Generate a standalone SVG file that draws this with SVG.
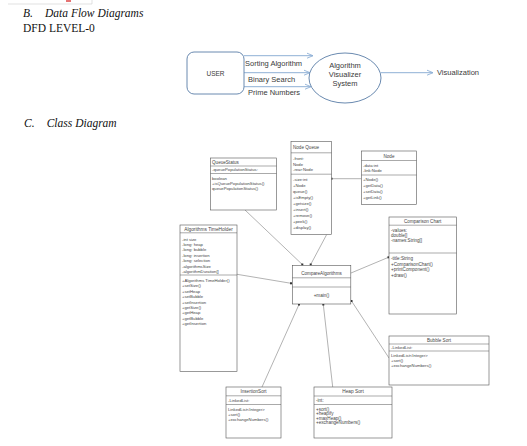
<svg xmlns="http://www.w3.org/2000/svg" width="527" height="446" viewBox="0 0 527 446">
<style>
.hd{font-family:"Liberation Serif",serif;font-size:11.5px;font-style:italic;fill:#111}
.hn{font-family:"Liberation Serif",serif;font-size:11.5px;fill:#111}
.dt{font-family:"Liberation Sans",sans-serif;font-size:7.5px;fill:#3a3a3a}
.dfd{fill:#fff;stroke:#6a8ab0;stroke-width:1}
.fl{stroke:#8fb0d6;stroke-width:1;fill:none;marker-end:url(#ar)}
.bx{fill:#fff;stroke:#555;stroke-width:0.6}
.sp{stroke:#555;stroke-width:0.5}
.t{font-family:"Liberation Sans",sans-serif;font-size:4.2px;fill:#444}
.tt{font-family:"Liberation Sans",sans-serif;font-size:4.6px;fill:#444}
.c{text-anchor:middle}
.cn{stroke:#666;stroke-width:0.5;fill:none;marker-end:url(#dot)}
</style>
<defs>
<marker id="ar" markerWidth="8" markerHeight="8" refX="7" refY="4" orient="auto" markerUnits="userSpaceOnUse"><path d="M1,1.5 L7,4 L1,6.5" fill="none" stroke="#8fb0d6" stroke-width="0.9"/></marker>
<marker id="dot" markerWidth="3" markerHeight="3" refX="1.5" refY="1.5" markerUnits="userSpaceOnUse"><rect x="0.5" y="0.5" width="2" height="2" fill="#333"/></marker>
</defs>
<rect width="527" height="446" fill="#fff"/>
<path d="M8,4 H92 V0" fill="none" stroke="#ccc" stroke-width="0.6"/>
<rect x="66" y="0" width="5" height="2" fill="#e57373"/>

<text class="hd"><tspan x="23" y="17">B.</tspan><tspan x="45" y="17">Data Flow Diagrams</tspan></text>
<text class="hn" x="23" y="31.5">DFD LEVEL-0</text>
<text class="hd"><tspan x="24" y="126.5">C.</tspan><tspan x="46.7" y="126.5">Class Diagram</tspan></text>

<g id="dfd-flows">
<line class="fl" x1="244" y1="55.7" x2="313" y2="55.7"/>
<line class="fl" x1="244" y1="72.7" x2="310" y2="72.7"/>
<line class="fl" x1="244" y1="86.7" x2="311" y2="86.7"/>
<line class="fl" x1="381" y1="72.7" x2="433" y2="72.7"/>
<text class="dt" x="245" y="66">Sorting Algorithm</text>
<text class="dt" x="248" y="82">Binary Search</text>
<text class="dt" x="248" y="95.3">Prime Numbers</text>
<text class="dt" x="437" y="75.3">Visualization</text>
</g>
<g id="dfd-user">
<rect class="dfd" x="187" y="52" width="57" height="42" rx="7"/>
<text class="dt c" x="215.5" y="75.6" style="font-size:6.5px">USER</text>
</g>
<g id="dfd-system">
<ellipse class="dfd" cx="345" cy="78" rx="36" ry="25"/>
<text class="dt c" x="345" y="67.6">Algorithm</text>
<text class="dt c" x="345" y="77">Visualizer</text>
<text class="dt c" x="345" y="86">System</text>
</g>

<g id="connectors">
<line class="cn" x1="245" y1="210" x2="302.3" y2="264.5"/>
<line class="cn" x1="326.7" y1="234.5" x2="310.7" y2="264.5"/>
<line class="cn" x1="361.5" y1="178.7" x2="331.5" y2="178.7"/>
<line class="cn" x1="237" y1="274.3" x2="291" y2="283.3"/>
<line class="cn" x1="351" y1="273" x2="388.5" y2="257.3"/>
<line class="cn" x1="389" y1="358" x2="351.5" y2="301"/>
<line class="cn" x1="262" y1="387" x2="299" y2="304.5"/>
<line class="cn" x1="332.7" y1="387" x2="323.3" y2="304.5"/>
</g>

<g id="queuestatus">
<rect class="bx" x="210.5" y="158" width="66" height="52"/>
<line class="sp" x1="210.5" y1="166" x2="276.5" y2="166"/>
<line class="sp" x1="210.5" y1="173.5" x2="276.5" y2="173.5"/>
<text class="tt" x="212" y="163.8">QueueStatus</text>
<text class="t" x="212" y="171.3">-queuePopulationStatus:</text>
<text class="t" x="212" y="179.8">boolean</text>
<text class="t" x="212" y="185">+isQueuePopulationStatus()</text>
<text class="t" x="212" y="190.2">queuePopulationStatus()</text>
</g>

<g id="nodequeue">
<rect class="bx" x="291" y="141.5" width="40.5" height="93"/>
<line class="sp" x1="291" y1="152.8" x2="331.5" y2="152.8"/>
<line class="sp" x1="291" y1="174.2" x2="331.5" y2="174.2"/>
<text class="tt" x="293" y="149.3">Node Queue</text>
<text class="t" x="293" y="160.2">-front:</text>
<text class="t" x="293" y="165.5">Node</text>
<text class="t" x="293" y="171">-rear:Node</text>
<text class="t" x="293" y="181">-size:int</text>
<text class="t" x="293" y="187">+Node</text>
<text class="t" x="293" y="193">queue()</text>
<text class="t" x="293" y="199">+isEmpty()</text>
<text class="t" x="293" y="205">+getsize()</text>
<text class="t" x="293" y="211">+insert()</text>
<text class="t" x="293" y="217">+remove()</text>
<text class="t" x="293" y="223">+peek()</text>
<text class="t" x="293" y="229">+display()</text>
</g>

<g id="node">
<rect class="bx" x="361.5" y="151" width="55" height="53.3"/>
<line class="sp" x1="361.5" y1="160.5" x2="416.5" y2="160.5"/>
<line class="sp" x1="361.5" y1="175" x2="416.5" y2="175"/>
<text class="tt c" x="389" y="157.5">Node</text>
<text class="t" x="363" y="166.5">-data:int</text>
<text class="t" x="363" y="172">-link:Node</text>
<text class="t" x="363" y="181.2">+Node()</text>
<text class="t" x="363" y="187">+getData()</text>
<text class="t" x="363" y="192.8">+setData()</text>
<text class="t" x="363" y="198.6">+getLink()</text>
</g>

<g id="timeholder">
<rect class="bx" x="180" y="225" width="57" height="146.5"/>
<line class="sp" x1="180" y1="232.8" x2="237" y2="232.8"/>
<line class="sp" x1="180" y1="275" x2="237" y2="275"/>
<text class="tt c" x="208.5" y="230.8" style="font-size:4.8px">Algorithms TimeHolder</text>
<text class="t" x="182" y="240.5">-int size</text>
<text class="t" x="182" y="245.9">-long: heap</text>
<text class="t" x="182" y="251.3">-long: bubble</text>
<text class="t" x="182" y="256.7">-long: insertion</text>
<text class="t" x="182" y="262.1">-long: selection</text>
<text class="t" x="182" y="267.5">-algorithmsSize</text>
<text class="t" x="182" y="272.9">-algorithmDuration[]</text>
<text class="t" x="182" y="281.9">+Algorithms TimeHolder()</text>
<text class="t" x="182" y="287.3">+setSize()</text>
<text class="t" x="182" y="292.7">+setHeap</text>
<text class="t" x="182" y="298.1">+setBubble</text>
<text class="t" x="182" y="303.5">+setInsertion</text>
<text class="t" x="182" y="308.9">+getSize()</text>
<text class="t" x="182" y="314.3">+getHeap</text>
<text class="t" x="182" y="319.7">+getBubble</text>
<text class="t" x="182" y="325.1">+getInsertion</text>
</g>

<g id="comparisonchart">
<rect class="bx" x="389" y="217" width="67.5" height="97"/>
<line class="sp" x1="389" y1="225.2" x2="456.5" y2="225.2"/>
<line class="sp" x1="389" y1="253" x2="456.5" y2="253"/>
<text class="tt c" x="422.7" y="223.2">Comparison Chart</text>
<text class="tt" x="391" y="232">-values:</text>
<text class="tt" x="391" y="237">double[]</text>
<text class="tt" x="391" y="242">-names:String[]</text>
<text class="tt" x="391" y="260">-title:String</text>
<text class="tt" x="391" y="265.5">+ComparisonChart()</text>
<text class="tt" x="391" y="271">+printComponent()</text>
<text class="tt" x="391" y="276.5">+draw()</text>
</g>

<g id="comparealgorithms">
<rect class="bx" x="292.3" y="265.5" width="58.5" height="38.5"/>
<line class="sp" x1="292.3" y1="277.8" x2="350.8" y2="277.8"/>
<line class="sp" x1="292.3" y1="287" x2="350.8" y2="287"/>
<text class="tt c" x="321.5" y="275">CompareAlgorithms</text>
<text class="tt c" x="321.5" y="297">+main()</text>
</g>

<g id="bubblesort">
<rect class="bx" x="389" y="336" width="100" height="49"/>
<line class="sp" x1="389" y1="344" x2="489" y2="344"/>
<line class="sp" x1="389" y1="351" x2="489" y2="351"/>
<text class="tt c" x="439" y="341.6">Bubble Sort</text>
<text class="t" x="391" y="349">-LinkedList:</text>
<text class="t" x="391" y="357">LinkedList&lt;Integer&gt;</text>
<text class="t" x="391" y="362">+sort()</text>
<text class="t" x="391" y="367">+exchangeNumbers()</text>
</g>

<g id="insertionsort">
<rect class="bx" x="226" y="387" width="55" height="51"/>
<line class="sp" x1="226" y1="395.8" x2="281" y2="395.8"/>
<line class="sp" x1="226" y1="404.5" x2="281" y2="404.5"/>
<text class="tt c" x="253.5" y="393">InsertionSort</text>
<text class="t" x="228" y="401.8">-LinkedList:</text>
<text class="t" x="228" y="411">LinkedList&lt;Integer&gt;</text>
<text class="t" x="228" y="416">+sort()</text>
<text class="t" x="228" y="421">+exchangeNumbers()</text>
</g>

<g id="heapsort">
<rect class="bx" x="314" y="387" width="78" height="51"/>
<line class="sp" x1="314" y1="396" x2="392" y2="396"/>
<line class="sp" x1="314" y1="404.5" x2="392" y2="404.5"/>
<text class="tt c" x="353" y="393.3" style="font-size:4.8px">Heap Sort</text>
<text class="tt" x="316" y="401.5">-int:</text>
<text class="tt" x="316" y="410.5">+sort()</text>
<text class="tt" x="316" y="415">+heapify</text>
<text class="tt" x="316" y="419.5">+maxHeap()</text>
<text class="tt" x="316" y="424">+exchangeNumbers()</text>
</g>
</svg>
